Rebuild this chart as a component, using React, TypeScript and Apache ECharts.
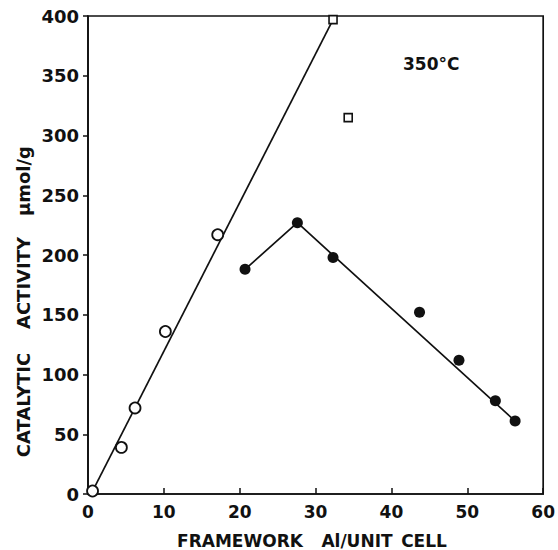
import React, { useEffect, useRef } from "react";
import * as echarts from "echarts";

// Open circles: framework Al per unit cell vs catalytic activity (µmol/g)
const openCircleX = [0.6, 4.4, 6.2, 10.2, 17.1];
const openCircleY = [2.5, 39, 72, 136, 217];
// Open squares
const openSquareX = [32.3, 34.3];
const openSquareY = [397, 315];
// Filled circles
const filledX = [20.7, 27.6, 32.3, 43.7, 48.9, 53.7, 56.3];
const filledY = [188, 227, 198, 152, 112, 78, 61];
// Drawn trend lines
const riseLineX = [0.6, 32.3];
const riseLineY = [2.5, 397];
const fallLineX = [20.7, 27.6, 56.3];
const fallLineY = [188, 227, 61];

const xTicks = [0, 10, 20, 30, 40, 50, 60];
const yTicks = [0, 50, 100, 150, 200, 250, 300, 350, 400];

const xTitleWords = ["FRAMEWORK", "Al/UNIT", "CELL"];
const yTitleWords = ["CATALYTIC", "ACTIVITY", "µmol/g"];
const tempLabel = "350°C";

const FONT = "DejaVu Sans";

const zip = (xs: number[], ys: number[]) => xs.map((x, i) => [x, ys[i]]);

export default function App() {
  const ref = useRef<HTMLDivElement>(null);
  useEffect(() => {
    if (!ref.current) return;
    const chart = echarts.init(ref.current, null, { renderer: "svg" });
    const xWordCenters = [240, 357, 424];
    const yWordCenters = [405, 283, 181];
    const titleStyle = {
      fontFamily: FONT,
      fontWeight: "bold",
      fontSize: 18,
      fill: "#111",
      align: "center",
      verticalAlign: "middle",
    };
    chart.setOption({
      animation: false,
      backgroundColor: "#ffffff",
      grid: {
        left: 88,
        right: 6,
        top: 16,
        bottom: 56,
        show: true,
        borderColor: "#111",
        borderWidth: 1.7,
        backgroundColor: "transparent",
      },
      xAxis: {
        type: "value",
        min: xTicks[0],
        max: xTicks[xTicks.length - 1],
        interval: 10,
        axisLine: { show: true, lineStyle: { color: "#111", width: 1.7 } },
        axisTick: { show: true, inside: true, length: 6, lineStyle: { color: "#111", width: 1.5 } },
        axisLabel: {
          color: "#111",
          fontFamily: FONT,
          fontWeight: "bold",
          fontSize: 17,
          margin: 9,
        },
        splitLine: { show: false },
      },
      yAxis: {
        type: "value",
        min: yTicks[0],
        max: yTicks[yTicks.length - 1],
        interval: 50,
        axisLine: { show: true, lineStyle: { color: "#111", width: 1.7 } },
        axisTick: { show: true, inside: false, length: 5, lineStyle: { color: "#111", width: 1.5 } },
        axisLabel: {
          color: "#111",
          fontFamily: FONT,
          fontWeight: "bold",
          fontSize: 18,
          margin: 9,
        },
        splitLine: { show: false },
      },
      graphic: [
        ...xTitleWords.map((w, i) => ({
          type: "text",
          x: xWordCenters[i],
          y: 541,
          style: { ...titleStyle, text: w, fontSize: 17 },
        })),
        ...yTitleWords.map((w, i) => ({
          type: "text",
          x: 23,
          y: yWordCenters[i],
          rotation: Math.PI / 2,
          style: { ...titleStyle, text: w },
        })),
        {
          type: "text",
          left: 403,
          top: 55,
          style: {
            text: tempLabel,
            fontFamily: FONT,
            fontWeight: "bold",
            fontSize: 17,
            fill: "#111",
          },
        },
      ],
      series: [
        {
          type: "line",
          data: zip(riseLineX, riseLineY),
          showSymbol: false,
          symbol: "none",
          lineStyle: { color: "#111", width: 1.7 },
          z: 1,
        },
        {
          type: "line",
          data: zip(fallLineX, fallLineY),
          showSymbol: false,
          symbol: "none",
          lineStyle: { color: "#111", width: 1.7 },
          z: 1,
        },
        {
          type: "scatter",
          data: zip(openCircleX, openCircleY),
          symbol: "circle",
          symbolSize: 11,
          itemStyle: { color: "#fff", borderColor: "#111", borderWidth: 1.8, opacity: 1 },
          z: 3,
        },
        {
          type: "scatter",
          data: zip(openSquareX, openSquareY),
          symbol: "rect",
          symbolSize: 8,
          itemStyle: { color: "#fff", borderColor: "#111", borderWidth: 1.6, opacity: 1 },
          z: 3,
        },
        {
          type: "scatter",
          data: zip(filledX, filledY),
          symbol: "circle",
          symbolSize: 11,
          itemStyle: { color: "#111", borderColor: "#111", borderWidth: 0, opacity: 1 },
          z: 3,
        },
      ],
    });
    return () => chart.dispose();
  }, []);
  return <div ref={ref} style={{ width: 558, height: 550, position: "absolute", left: 0, top: 0 }} />;
}
